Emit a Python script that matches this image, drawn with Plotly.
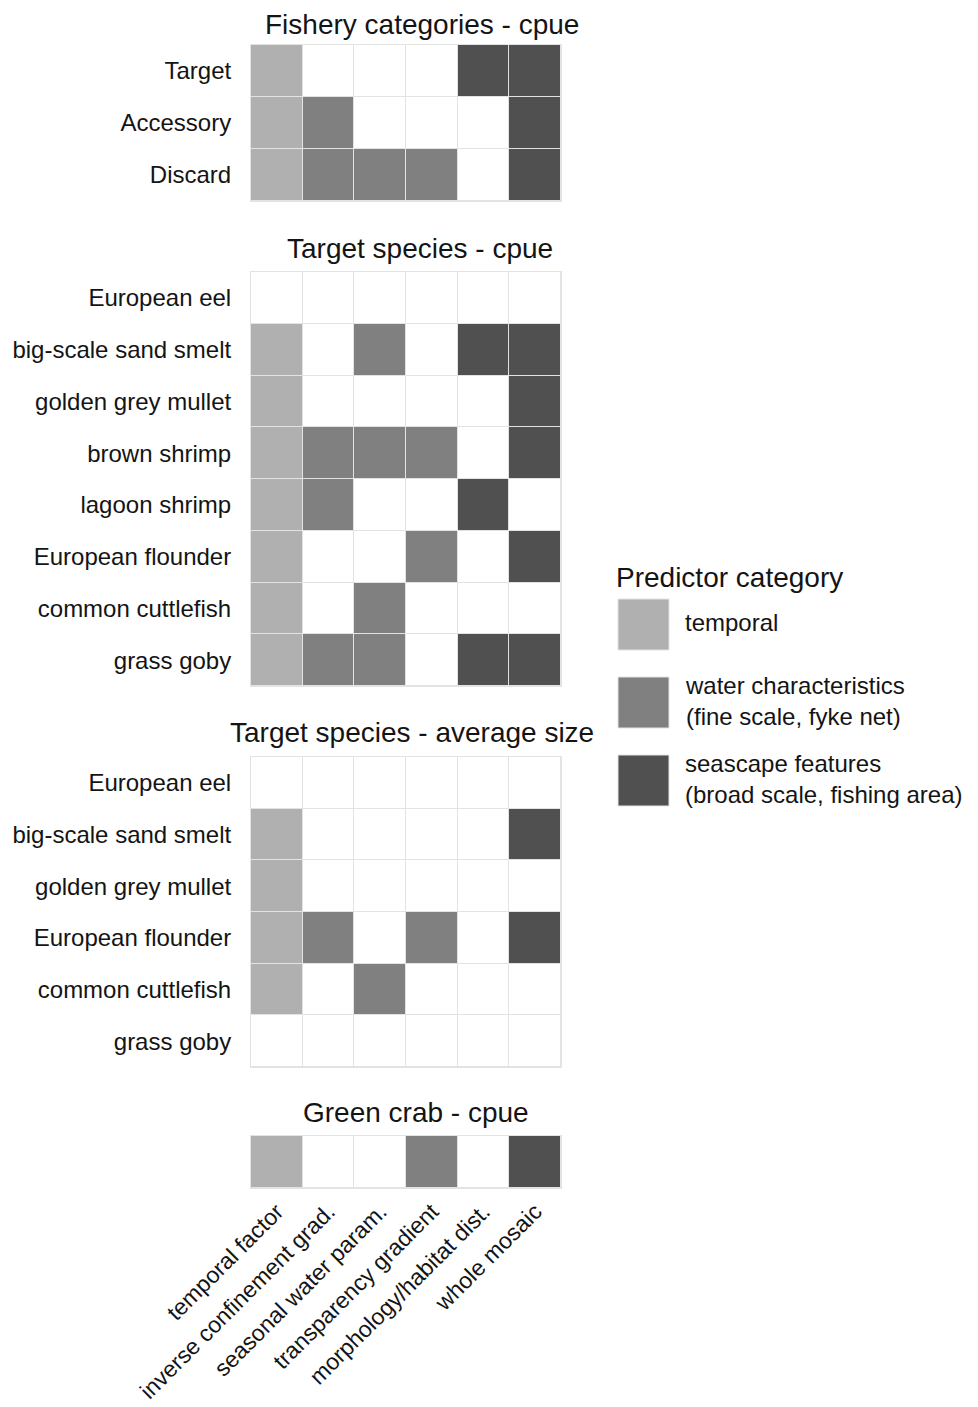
import plotly.graph_objects as go

# ---------------- data ----------------
predictors = ["temporal factor", "inverse confinement grad.", "seasonal water param.",
              "transparency gradient", "morphology/habitat dist.", "whole mosaic"]
# predictor category code per column: 1 temporal, 2 water, 3 seascape
predictor_category = [1, 2, 2, 2, 3, 3]
category_labels = ["temporal", "water characteristics<br>(fine scale, fyke net)",
                   "seascape features<br>(broad scale, fishing area)"]

panel_titles = ["Fishery categories - cpue", "Target species - cpue",
                "Target species - average size", "Green crab - cpue"]

fishery_rows = ["Target", "Accessory", "Discard"]
fishery_sel = [
    [1, 0, 0, 0, 1, 1],
    [1, 1, 0, 0, 0, 1],
    [1, 1, 1, 1, 0, 1],
]

cpue_rows = ["European eel", "big-scale sand smelt", "golden grey mullet", "brown shrimp",
             "lagoon shrimp", "European flounder", "common cuttlefish", "grass goby"]
cpue_sel = [
    [0, 0, 0, 0, 0, 0],
    [1, 0, 1, 0, 1, 1],
    [1, 0, 0, 0, 0, 1],
    [1, 1, 1, 1, 0, 1],
    [1, 1, 0, 0, 1, 0],
    [1, 0, 0, 1, 0, 1],
    [1, 0, 1, 0, 0, 0],
    [1, 1, 1, 0, 1, 1],
]

size_rows = ["European eel", "big-scale sand smelt", "golden grey mullet",
             "European flounder", "common cuttlefish", "grass goby"]
size_sel = [
    [0, 0, 0, 0, 0, 0],
    [1, 0, 0, 0, 0, 1],
    [1, 0, 0, 0, 0, 0],
    [1, 1, 0, 1, 0, 1],
    [1, 0, 1, 0, 0, 0],
    [0, 0, 0, 0, 0, 0],
]

crab_rows = [" "]
crab_sel = [[1, 0, 0, 1, 0, 1]]

panels = [(fishery_rows, fishery_sel), (cpue_rows, cpue_sel),
          (size_rows, size_sel), (crab_rows, crab_sel)]

colors = ["#ffffff", "#b0b0b0", "#808080", "#505050"]

# ---------------- layout helpers ----------------
OFF = 8                      # page body margin in the browser
W, H = 978 - OFF, 1407 - OFF
L, R, T, B = 251, 561, 45, 1188   # plot area in reference pixels
def px2x(p):
    return (p - L) / (R - L)
def px2y(p):
    return (B - p) / (B - T)

panel_px = [(45, 201), (272, 686), (757, 1067), (1136, 1188)]
title_px = [(422, 25), (420, 248), (412, 733), (416, 1112)]

FONT = "Liberation Sans"
TXT = "#141414"
GRID = "#e3e3e3"

fig = go.Figure()
layout_axes = {}
for i, ((rows, sel), (top, bot)) in enumerate(zip(panels, panel_px)):
    z = [[s * c for s, c in zip(r, predictor_category)] for r in sel]
    n = i + 1
    xa = "x" if n == 1 else f"x{n}"
    ya = "y" if n == 1 else f"y{n}"
    fig.add_trace(go.Heatmap(
        z=z, x=predictors, y=rows, xaxis=xa, yaxis=ya,
        zmin=0, zmax=3,
        colorscale=[[0, colors[0]], [1/3, colors[1]], [2/3, colors[2]], [1, colors[3]]],
        showscale=False, xgap=1, ygap=1, hoverinfo="skip"))
    xkey = "xaxis" if n == 1 else f"xaxis{n}"
    ykey = "yaxis" if n == 1 else f"yaxis{n}"
    layout_axes[xkey] = dict(
        domain=[0, 1], anchor=ya, showgrid=False, zeroline=False, automargin=False,
        showline=True, mirror=True, linecolor=GRID, linewidth=1,
        showticklabels=(n == 4), tickangle=-45, ticks="", ticklabelstandoff=0,
        tickfont=dict(family=FONT, size=23, color=TXT),
        categoryorder="array", categoryarray=predictors, fixedrange=True)
    layout_axes[ykey] = dict(
        domain=[px2y(bot), px2y(top)], anchor=xa, showgrid=False, zeroline=False,
        automargin=False,
        showline=True, mirror=True, linecolor=GRID, linewidth=1,
        autorange="reversed", ticks="", ticklabelstandoff=14,
        tickfont=dict(family=FONT, size=24, color=TXT), fixedrange=True)

annotations = []
for t, (cx, cy) in zip(panel_titles, title_px):
    annotations.append(dict(text=t, x=px2x(cx), y=px2y(cy), xref="paper", yref="paper",
                            xanchor="center", yanchor="middle", showarrow=False,
                            font=dict(family=FONT, size=28, color=TXT)))

# legend
annotations.append(dict(text="Predictor category", x=px2x(614), y=px2y(577),
                        xref="paper", yref="paper", xanchor="left", yanchor="middle",
                        showarrow=False, font=dict(family=FONT, size=28, color=TXT)))
shapes = []
leg_tops = [599, 677, 755]
for k, (lab, tp) in enumerate(zip(category_labels, leg_tops)):
    shapes.append(dict(type="rect", xref="paper", yref="paper",
                       x0=px2x(618), x1=px2x(669), y0=px2y(tp + 51), y1=px2y(tp),
                       fillcolor=colors[k + 1], line=dict(color=GRID, width=1)))
    annotations.append(dict(text=lab, x=px2x(683), y=px2y(tp + 23 if k == 0 else tp + 24),
                            xref="paper", yref="paper", xanchor="left", yanchor="middle",
                            align="left", showarrow=False,
                            font=dict(family=FONT, size=24, color=TXT)))

fig.update_layout(
    width=W, height=H,
    margin=dict(l=L - OFF, r=W - (R - OFF), t=T - OFF, b=H - (B - OFF), pad=0,
                autoexpand=False),
    plot_bgcolor=GRID, paper_bgcolor="white",
    showlegend=False, annotations=annotations, shapes=shapes,
    font=dict(family=FONT, color=TXT),
    **layout_axes)

fig.write_html("out.html")
